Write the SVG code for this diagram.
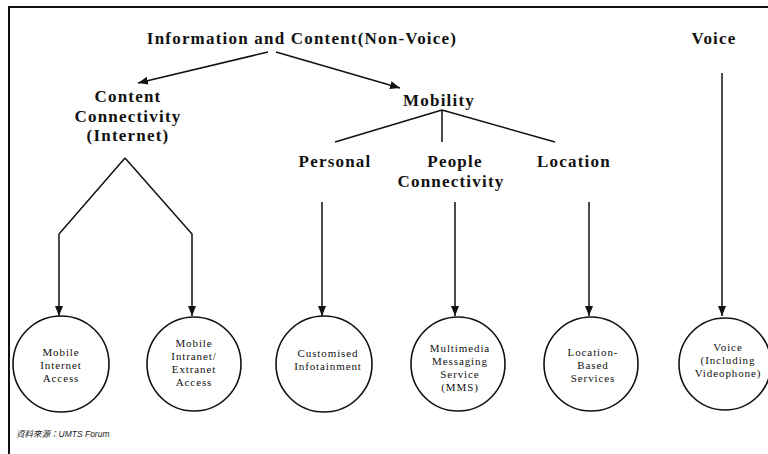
<svg xmlns="http://www.w3.org/2000/svg" width="768" height="454" viewBox="0 0 768 454">
<style>
.h{font-family:"Liberation Serif","Times New Roman",serif;font-weight:bold;font-size:17px;letter-spacing:1.2px;fill:#111;text-anchor:middle}
.c{font-family:"Liberation Serif","Times New Roman",serif;font-size:11px;letter-spacing:0.9px;fill:#111;text-anchor:middle}
.n{fill:#fff;stroke:#111;stroke-width:1.6}
.l{fill:none;stroke:#111;stroke-width:1.5}
.f{font-family:"Liberation Sans","Noto Sans CJK TC",sans-serif;font-size:8.5px;font-style:italic;fill:#222}
</style>
<defs>
<marker id="ah" viewBox="0 0 10 8" refX="10" refY="4" markerWidth="10" markerHeight="8" markerUnits="userSpaceOnUse" orient="auto">
<path d="M0,0 L10,4 L0,8 z" fill="#111"/>
</marker>
</defs>
<rect width="768" height="454" fill="#fff"/>
<path d="M9,454 V7 H768" fill="none" stroke="#111" stroke-width="2"/>
<g id="connectors">
<path class="l" d="M268,52 L138,83" marker-end="url(#ah)"/>
<path class="l" d="M276,52 L400,88" marker-end="url(#ah)"/>
<path class="l" d="M125,158 L59,234 V316" marker-end="url(#ah)"/>
<path class="l" d="M125,158 L192,234 V316" marker-end="url(#ah)"/>
<path class="l" d="M442,110 L335,142 M442,110 V142 M442,110 L555,142"/>
<path class="l" d="M322,202 V316" marker-end="url(#ah)"/>
<path class="l" d="M455,202 V316" marker-end="url(#ah)"/>
<path class="l" d="M589,202 V316" marker-end="url(#ah)"/>
<path class="l" d="M722,73 V316" marker-end="url(#ah)"/>
</g>
<g id="title"><text class="h" x="302" y="44">Information and Content(Non-Voice)</text></g>
<g id="voice"><text class="h" x="714" y="44">Voice</text></g>
<g id="content"><text class="h" x="128" y="102">Content</text><text class="h" x="128" y="122">Connectivity</text><text class="h" x="128" y="141">(Internet)</text></g>
<g id="mobility"><text class="h" x="439" y="106">Mobility</text></g>
<g id="personal"><text class="h" x="335" y="167">Personal</text></g>
<g id="people"><text class="h" x="455" y="167">People</text><text class="h" x="451" y="187">Connectivity</text></g>
<g id="location"><text class="h" x="574" y="167">Location</text></g>
<g id="n1"><circle class="n" cx="61" cy="364" r="48"/><text class="c" x="61" y="356">Mobile</text><text class="c" x="61" y="369">Internet</text><text class="c" x="61" y="382">Access</text></g>
<g id="n2"><circle class="n" cx="194" cy="364" r="47"/><text class="c" x="194" y="347">Mobile</text><text class="c" x="194" y="360">Intranet/</text><text class="c" x="194" y="373">Extranet</text><text class="c" x="194" y="386">Access</text></g>
<g id="n3"><circle class="n" cx="324" cy="364" r="48"/><text class="c" x="328" y="357">Customised</text><text class="c" x="328" y="370">Infotainment</text></g>
<g id="n4"><circle class="n" cx="458" cy="364" r="47"/><text class="c" x="460" y="352">Multimedia</text><text class="c" x="460" y="365">Messaging</text><text class="c" x="460" y="378">Service</text><text class="c" x="460" y="391">(MMS)</text></g>
<g id="n5"><circle class="n" cx="591" cy="364" r="47"/><text class="c" x="593" y="356">Location-</text><text class="c" x="593" y="369">Based</text><text class="c" x="593" y="382">Services</text></g>
<g id="n6"><circle class="n" cx="725" cy="364" r="46"/><text class="c" x="728" y="351">Voice</text><text class="c" x="728" y="364">(Including</text><text class="c" x="728" y="377">Videophone)</text></g>
<g id="footer"><text class="f" x="16" y="437">資料來源：UMTS Forum</text></g>
</svg>
